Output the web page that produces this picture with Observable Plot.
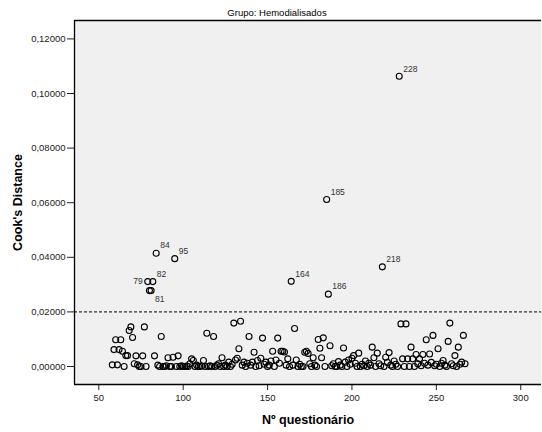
<!DOCTYPE html>
<html><head><meta charset="utf-8">
<script src="https://cdn.jsdelivr.net/npm/d3@7"></script>
<script src="https://cdn.jsdelivr.net/npm/@observablehq/plot@0.6"></script>
<style>body{margin:0;background:#fff;}</style>
</head><body><div id="chart"></div>
<script>
const caseNo = [58,59,60,61,62,63,64,65,66,67,
68,69,70,71,72,73,74,75,76,77,
78,79,80,81,82,83,84,85,86,87,
88,89,90,91,92,93,94,95,96,97,
98,99,100,101,102,103,104,105,106,107,
108,109,110,111,112,113,114,115,116,117,
118,119,120,121,122,123,124,125,126,127,
128,129,130,131,132,133,134,135,136,137,
138,139,140,141,142,143,144,145,146,147,
148,149,150,151,152,153,154,155,156,157,
158,159,160,161,162,163,164,165,166,167,
168,169,170,171,172,173,174,175,176,177,
178,179,180,181,182,183,184,185,186,187,
188,189,190,191,192,193,194,195,196,197,
198,199,200,201,202,203,204,205,206,207,
208,209,210,211,212,213,214,215,216,217,
218,219,220,221,222,223,224,225,226,227,
228,229,230,231,232,233,234,235,236,237,
238,239,240,241,242,243,244,245,246,247,
248,249,250,251,252,253,254,255,256,257,
258,259,260,261,262,263,264,265,266,267];
const cooksD = [0.0006,0.0062,0.0098,0.0006,0.0062,0.0098,0.0056,0.0000,0.0040,0.0040,
0.0132,0.0145,0.0106,0.0010,0.0039,0.0006,0.0000,0.0000,0.0039,0.0145,
0.0000,0.0311,0.0278,0.0278,0.0311,0.0039,0.0415,0.0005,0.0000,0.0110,
0.0000,0.0000,0.0003,0.0032,0.0000,0.0000,0.0034,0.0395,0.0000,0.0039,
0.0000,0.0003,0.0000,0.0000,0.0002,0.0000,0.0010,0.0028,0.0022,0.0000,
0.0005,0.0000,0.0000,0.0002,0.0022,0.0000,0.0122,0.0000,0.0003,0.0000,
0.0110,0.0000,0.0005,0.0010,0.0000,0.0032,0.0000,0.0005,0.0000,0.0016,
0.0000,0.0008,0.0159,0.0024,0.0030,0.0065,0.0166,0.0005,0.0016,0.0000,
0.0012,0.0110,0.0005,0.0016,0.0052,0.0000,0.0022,0.0003,0.0030,0.0104,
0.0008,0.0016,0.0000,0.0005,0.0020,0.0056,0.0000,0.0024,0.0104,0.0012,
0.0056,0.0056,0.0053,0.0005,0.0028,0.0000,0.0312,0.0005,0.0139,0.0024,
0.0000,0.0008,0.0000,0.0000,0.0052,0.0056,0.0048,0.0010,0.0000,0.0032,
0.0005,0.0000,0.0099,0.0067,0.0032,0.0105,0.0000,0.0612,0.0265,0.0076,
0.0003,0.0010,0.0000,0.0000,0.0018,0.0005,0.0000,0.0068,0.0016,0.0000,
0.0024,0.0008,0.0030,0.0040,0.0012,0.0000,0.0049,0.0000,0.0008,0.0003,
0.0020,0.0000,0.0012,0.0005,0.0071,0.0032,0.0000,0.0049,0.0010,0.0003,
0.0365,0.0000,0.0034,0.0015,0.0051,0.0005,0.0000,0.0020,0.0008,0.0000,
0.1063,0.0156,0.0028,0.0000,0.0156,0.0028,0.0000,0.0071,0.0028,0.0000,
0.0044,0.0010,0.0028,0.0003,0.0044,0.0012,0.0098,0.0005,0.0046,0.0015,
0.0114,0.0003,0.0008,0.0065,0.0000,0.0012,0.0022,0.0005,0.0000,0.0092,
0.0159,0.0010,0.0003,0.0040,0.0000,0.0071,0.0008,0.0016,0.0114,0.0010];
const labelledCases = [79,81,82,84,95,164,185,186,218,228];
const xTicks = [50,100,150,200,250,300];
const yTicks = [0,0.02,0.04,0.06,0.08,0.10,0.12];
const cutoff = 0.02;
const titleText = "Grupo: Hemodialisados";
const xLabel = "Nº questionário";
const yLabel = "Cook's Distance";

const data = caseNo.map((c, i) => ({caseNo: c, cook: cooksD[i]}));
const labelled = data.filter(d => labelledCases.includes(d.caseNo));
const leftLabels = labelled.filter(d => d.caseNo === 79);
const belowLabels = labelled.filter(d => d.caseNo === 81);
const normalLabels = labelled.filter(d => d.caseNo !== 79 && d.caseNo !== 81);
const xDomain = [35.6, 312.3];
const yDomain = [-0.00659, 0.12674];
const fmt = v => v.toFixed(5).replace(".", ",");
const lblStyle = {x: "caseNo", y: "cook", text: d => String(d.caseNo), fontSize: 8.5, fill: "#333"};

const chart = Plot.plot({
  width: 542, height: 432,
  marginLeft: 74, marginRight: 1, marginTop: 20, marginBottom: 48,
  style: {fontFamily: "'Liberation Sans', Arial, sans-serif", fontSize: "9.5px", color: "#222", background: "#fff"},
  x: {domain: xDomain, ticks: xTicks, tickSize: 6, tickPadding: 4, label: null},
  y: {domain: yDomain, ticks: yTicks, tickFormat: fmt, tickSize: 7, tickPadding: 2, label: null},
  marks: [
    Plot.frame({fill: "#f0f0f0", stroke: "none"}),
    Plot.ruleY([cutoff], {stroke: "#000", strokeDasharray: "3,2", strokeWidth: 1}),
    Plot.dot(data, {x: "caseNo", y: "cook", r: 3, stroke: "#000", strokeWidth: 1.1, fill: "none"}),
    Plot.text(normalLabels, {...lblStyle, dx: 4, dy: -7.5, textAnchor: "start"}),
    Plot.text(leftLabels, {...lblStyle, dx: -5, dy: 0, textAnchor: "end"}),
    Plot.text(belowLabels, {...lblStyle, dx: 4, dy: 9, textAnchor: "start"}),
    Plot.ruleX([xDomain[0]], {stroke: "#000", strokeWidth: 1.3}),
    Plot.ruleY([yDomain[0], yDomain[1]], {stroke: "#000", strokeWidth: 1.3}),
    Plot.text([titleText], {text: d => d, frameAnchor: "top", lineAnchor: "middle", textAnchor: "middle", dx: -31, dy: -8, fontSize: 9.5, fill: "#000"}),
    Plot.text([yLabel], {text: d => d, frameAnchor: "left", lineAnchor: "middle", textAnchor: "middle", rotate: -90, dx: -57, fontWeight: "bold", fontSize: 12.5, fill: "#000"}),
    Plot.text([xLabel], {text: d => d, frameAnchor: "bottom", lineAnchor: "middle", textAnchor: "middle", dy: 35, fontWeight: "bold", fontSize: 12.5, fill: "#000"})
  ]
});
document.getElementById("chart").appendChild(chart);
</script>
</body></html>
